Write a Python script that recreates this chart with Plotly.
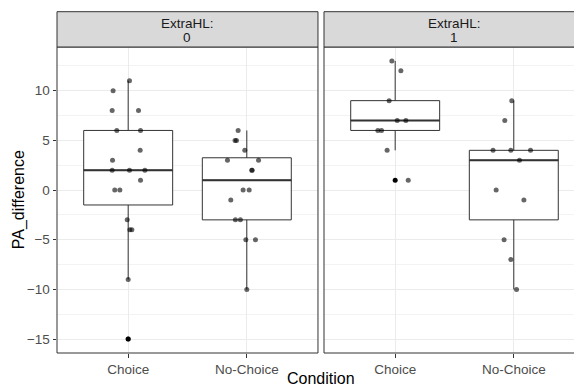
import numpy as np
import plotly.graph_objects as go

# ---- data ----
categories = ["Choice", "No-Choice"]
panels = ["0", "1"]

choice_hl0 = [11, 10, 8, 8, 6, 6, 4, 3, 2, 2, 2, 1, 0, 0, -3, -4, -4, -9, -15]
nochoice_hl0 = [6, 5, 5, 4, 3, 3, 2, 2, 0, 0, -1, -3, -3, -5, -5, -10]
choice_hl1 = [13, 12, 9, 7, 7, 6, 6, 4, 1]
nochoice_hl1 = [9, 7, 4, 4, 4, 3, 0, -1, -5, -7, -10]

# horizontal jitter of each point (category units)
choice_hl0_jitter = [0.011, -0.127, -0.135, 0.087, -0.096, 0.104, 0.101, -0.132, -0.135, 0.011,
                     0.141, 0.104, -0.113, -0.070, -0.008, 0.014, 0.031, 0.0, 0.0]
nochoice_hl0_jitter = [-0.073, -0.099, -0.087, -0.017, -0.163, 0.099, 0.042, 0.045, -0.031, 0.020,
                       -0.135, -0.096, -0.054, -0.008, 0.073, 0.0]
choice_hl1_jitter = [-0.028, 0.048, -0.051, 0.017, 0.090, -0.146, -0.115, -0.068, 0.110]
nochoice_hl1_jitter = [-0.017, -0.076, -0.175, -0.025, 0.141, 0.048, -0.149, 0.085, -0.082,
                       -0.025, 0.023]

groups = [
    ("x", "y", 1, choice_hl0, choice_hl0_jitter),
    ("x", "y", 2, nochoice_hl0, nochoice_hl0_jitter),
    ("x2", "y2", 1, choice_hl1, choice_hl1_jitter),
    ("x2", "y2", 2, nochoice_hl1, nochoice_hl1_jitter),
]

BOX_W = 0.75
DARK = "#333333"

fig = go.Figure()
for xa, ya, pos, vals, jit in groups:
    v = np.array(vals, dtype=float)
    q1, med, q3 = np.percentile(v, [25, 50, 75])
    iqr = q3 - q1
    inside = v[(v >= q1 - 1.5 * iqr) & (v <= q3 + 1.5 * iqr)]
    lo, hi = inside.min(), inside.max()
    outl = v[(v < q1 - 1.5 * iqr) | (v > q3 + 1.5 * iqr)]
    fig.add_trace(go.Box(
        x=[pos], q1=[q1], median=[med], q3=[q3], lowerfence=[lo], upperfence=[hi],
        width=BOX_W, whiskerwidth=0, fillcolor="white", boxpoints=False,
        line=dict(color=DARK, width=1), xaxis=xa, yaxis=ya, hoverinfo="skip"))
    fig.add_trace(go.Scatter(
        x=[pos - BOX_W / 2, pos + BOX_W / 2], y=[med, med], mode="lines",
        line=dict(color=DARK, width=2), xaxis=xa, yaxis=ya, hoverinfo="skip"))
    if len(outl):
        fig.add_trace(go.Scatter(
            x=[pos] * len(outl), y=outl, mode="markers",
            marker=dict(color="black", size=5), xaxis=xa, yaxis=ya))
    fig.add_trace(go.Scatter(
        x=[pos + j for j in jit], y=v, mode="markers",
        marker=dict(color="rgba(0,0,0,0.6)", size=5), xaxis=xa, yaxis=ya))

tickfont = dict(family="Liberation Sans, Arial, sans-serif", size=13.5, color="#4D4D4D")
xcommon = dict(tickvals=[1, 2], ticktext=categories, showgrid=True, gridcolor="#EBEBEB",
               gridwidth=1, zeroline=False, ticks="outside", ticklen=3.5, tickwidth=1,
               tickcolor=DARK, tickfont=tickfont, showline=False, automargin=False)
ycommon = dict(range=[-16.4, 14.4], tick0=0, dtick=5, showgrid=True, gridcolor="#EBEBEB",
               gridwidth=1, zeroline=False, showline=False, automargin=False,
               minor=dict(dtick=2.5, tick0=0, showgrid=True, gridcolor="#F3F3F3", gridwidth=1))

# the page places the figure 8px from the top-left corner of the window
fig.update_layout(
    width=574, height=380,
    margin=dict(l=49, r=0, t=39, b=35),
    paper_bgcolor="white", plot_bgcolor="white", showlegend=False,
    font=dict(family="Liberation Sans, Arial, sans-serif"),
    xaxis=dict(domain=[0, 0.4971], range=[0.4, 2.6], anchor="y", **xcommon),
    xaxis2=dict(domain=[0.5086, 1], range=[0.4, 2.575], anchor="y2", **xcommon),
    yaxis=dict(anchor="x", ticks="outside", ticklen=3.5, tickwidth=1, tickcolor=DARK,
               tickfont=tickfont, **ycommon),
    yaxis2=dict(anchor="x2", matches="y", showticklabels=False, ticks="", **ycommon),
)

STRIP_TOP = 1.1154
shapes = []
for xa, ya, x1 in [("x", "y", 1), ("x2", "y2", 1.06)]:
    shapes.append(dict(type="rect", xref=f"{xa} domain", yref=f"{ya} domain",
                       x0=0, x1=x1, y0=0, y1=1, line=dict(color=DARK, width=1),
                       fillcolor="rgba(0,0,0,0)", layer="above"))
    shapes.append(dict(type="rect", xref=f"{xa} domain", yref=f"{ya} domain",
                       x0=0, x1=x1, y0=1, y1=STRIP_TOP, line=dict(color=DARK, width=1),
                       fillcolor="#D9D9D9", layer="above"))
fig.update_layout(shapes=shapes)

stripfont = dict(family="Liberation Sans, Arial, sans-serif", size=13.5, color="#1A1A1A")
annots = []
for xa, ya, lab in [("x", "y", panels[0]), ("x2", "y2", panels[1])]:
    annots.append(dict(xref=xa, yref=f"{ya} domain", x=1.5, y=1.078, text="ExtraHL:",
                       showarrow=False, font=stripfont, xanchor="center", yanchor="middle"))
    annots.append(dict(xref=xa, yref=f"{ya} domain", x=1.5, y=1.031, text=lab,
                       showarrow=False, font=stripfont, xanchor="center", yanchor="middle"))
titlefont = dict(family="Liberation Sans, Arial, sans-serif", size=16, color="black")
annots.append(dict(xref="paper", yref="paper", x=0.503, y=-0.083, text="Condition",
                   showarrow=False, font=titlefont, xanchor="center", yanchor="middle"))
annots.append(dict(xref="paper", yref="paper", x=-0.072, y=0.5, text="PA_difference",
                   textangle=-90, showarrow=False, font=titlefont,
                   xanchor="center", yanchor="middle"))
fig.update_layout(annotations=annots)

fig.write_html("out.html")
